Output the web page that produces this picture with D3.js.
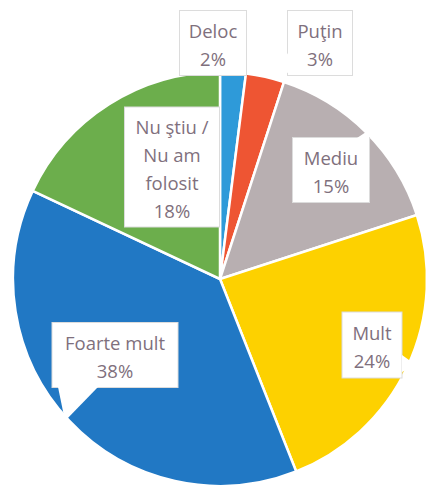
<!DOCTYPE html>
<html>
<head>
<meta charset="utf-8">
<script src="https://cdn.jsdelivr.net/npm/d3@7"></script>
<style>
  body { margin: 0; background: #fff; }
  .lbl { font-family: "Open Sans", sans-serif; font-size: 18.5px; fill: #7f707d; }
</style>
</head>
<body>
<svg id="chart" width="433" height="486"></svg>
<script>
// data
const categories = ["Deloc", "Puţin", "Mediu", "Mult", "Foarte mult", "Nu ştiu / Nu am folosit"];
const labelLines = [["Deloc"], ["Puţin"], ["Mediu"], ["Mult"], ["Foarte mult"], ["Nu ştiu /", "Nu am", "folosit"]];
const values = [2, 3, 15, 24, 38, 18];

const palette = ["#2e9ad9", "#ee5533", "#b8afb1", "#fdd100", "#2178c4", "#6cae4c"];

// callout boxes: centre, size, pointer (base points on the box edge + tip), relative to pie centre
const cx = 220, cy = 279, r = 207;
const callouts = [
  {x: -7, y: -236, w: 67, h: 65, ptr: null},
  {x: 100, y: -236, w: 65, h: 65, ptr: [[-32, 10], [-32, 30], [-43, 26]]},
  {x: 111, y: -109, w: 77, h: 65, ptr: [[26, -32], [38, -32], [41, -42]]},
  {x: 152, y: 66, w: 60, h: 66, ptr: [[30, 10], [30, 27], [44, 20]]},
  {x: -105, y: 76, w: 126, h: 65, ptr: [[-57, 32], [-17, 32], [-50, 66]]},
  {x: -48, y: -112, w: 95, h: 120, ptr: null}
];

const svg = d3.select("#chart");
const g = svg.append("g").attr("transform", `translate(${cx},${cy})`);

const color = d3.scaleOrdinal().domain(categories).range(palette);
const pie = d3.pie().sort(null).value((d, i) => values[i]);
const arc = d3.arc().innerRadius(0).outerRadius(r);

const arcs = pie(categories);

g.selectAll(".slice")
    .data(arcs)
    .enter()
    .append("path")
    .attr("class", "slice")
    .attr("d", arc)
    .style("fill", d => color(d.data))
    .style("stroke", "#fff")
    .style("stroke-width", 2.5);

const fmt = d => Math.round(d) + "%";

const lab = g.selectAll(".callout")
    .data(arcs)
    .enter()
    .append("g")
    .attr("class", "callout")
    .attr("transform", (d, i) => `translate(${callouts[i].x},${callouts[i].y})`);

lab.append("rect")
    .attr("x", (d, i) => -callouts[i].w / 2)
    .attr("y", (d, i) => -callouts[i].h / 2)
    .attr("width", (d, i) => callouts[i].w)
    .attr("height", (d, i) => callouts[i].h)
    .style("fill", "#fff")
    .style("stroke", "#dcdcdc")
    .style("stroke-width", 1);

lab.filter((d, i) => callouts[i].ptr)
    .append("path")
    .attr("d", (d, i) => d3.line()(callouts[categories.indexOf(d.data)].ptr) + "Z")
    .style("fill", "#fff");

lab.each(function(d, i) {
    const lines = labelLines[i].concat([fmt(values[i])]);
    const lh = 28;
    const t = d3.select(this).append("text")
        .attr("class", "lbl")
        .attr("text-anchor", "middle");
    lines.forEach((s, k) => {
        t.append("tspan")
            .attr("x", 0)
            .attr("y", (k - (lines.length - 1) / 2) * lh + 3)
            .attr("dy", "0.35em")
            .text(s);
    });
});
</script>
</body>
</html>
